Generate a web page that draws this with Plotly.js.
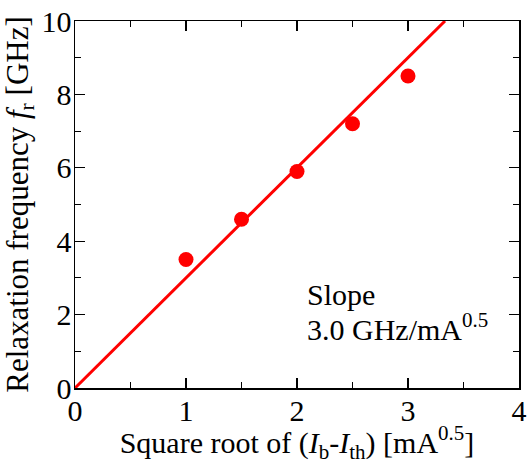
<!DOCTYPE html>
<html><head><meta charset="utf-8">
<script src="https://cdn.plot.ly/plotly-3.0.1.min.js"></script>
<style>body{margin:0;padding:0;background:#fff}#chart{width:527px;height:464px}</style>
</head><body><div id="chart"></div>
<script>
const sqrtCurrent = [1.0, 1.5, 2.0, 2.5, 3.0];
const relaxFreq = [3.5, 4.6, 5.9, 7.2, 8.5];
const fitX = [0, 3.3333];
const fitY = [0, 10];
const slopeLine1 = 'Slope';
const slopeLine2 = '3.0 GHz/mA<sup>0.5</sup>';
const F = 'Times New Roman';

const traces = [
  {x: fitX, y: fitY, mode: 'lines', line: {color: '#ff0000', width: 3}, hoverinfo: 'skip', showlegend: false},
  {x: sqrtCurrent, y: relaxFreq, mode: 'markers', marker: {color: '#ff0000', size: 15}, showlegend: false}
];
const axCommon = {
  showgrid: false, zeroline: false, showline: true, linecolor: '#000', linewidth: 1.5,
  mirror: 'allticks', ticks: 'inside', ticklen: 10, tickwidth: 1.2, tickcolor: '#000',
  tickfont: {family: F, size: 30, color: '#000'}
};
const layout = {
  width: 527, height: 464,
  margin: {l: 75, r: 8, t: 21, b: 76},
  paper_bgcolor: '#fff', plot_bgcolor: '#fff',
  font: {family: F, color: '#000'},
  xaxis: Object.assign({}, axCommon, {
    range: [0, 4], dtick: 1, tick0: 0, ticklabelstandoff: -5,
    minor: {dtick: 0.5, ticks: 'inside', ticklen: 6, tickcolor: '#000', tickwidth: 1.2},
    title: {text: 'Square root of (<i>I</i><sub>b</sub>-<i>I</i><sub>th</sub>) [mA<sup>0.5</sup>]', font: {family: F, size: 30, color: '#000'}, standoff: 4}
  }),
  yaxis: Object.assign({}, axCommon, {
    range: [0, 10], dtick: 2, tick0: 0, ticklabelstandoff: -4,
    minor: {dtick: 1, ticks: 'inside', ticklen: 6, tickcolor: '#000', tickwidth: 1.2},
    title: {text: 'Relaxation frequency <i>f</i><sub>r</sub> [GHz]', font: {family: F, size: 31, color: '#000'}, standoff: 4}
  }),
  annotations: [
    {x: 305, y: 305, xref: 'paper', yref: 'paper', xanchor: 'left', yanchor: 'middle', align: 'left',
     text: slopeLine1, showarrow: false, font: {family: F, size: 30, color: '#000'}},
    {x: 305, y: 337, xref: 'paper', yref: 'paper', xanchor: 'left', yanchor: 'middle', align: 'left',
     text: slopeLine2, showarrow: false, font: {family: F, size: 30, color: '#000'}}
  ]
};
// convert pixel positions of the note into paper coordinates
const pw = 527 - 75 - 8, ph = 464 - 21 - 76;
layout.annotations.forEach(a => { a.x = (a.x - 75) / pw; a.y = (388 - a.y + 10) / ph; });
Plotly.newPlot('chart', traces, layout, {displayModeBar: false, staticPlot: true});
</script></body></html>
